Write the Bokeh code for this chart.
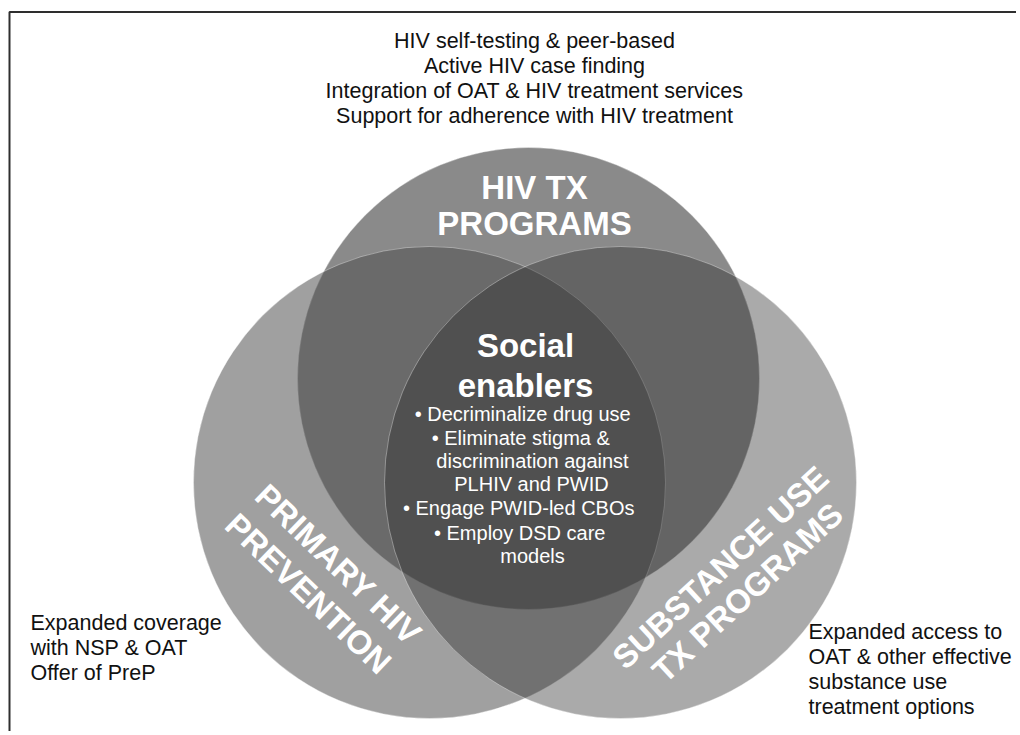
import math
from bokeh.plotting import figure
from bokeh.models import Range1d, ColumnDataSource
from bokeh.core.properties import value
from bokeh.embed import file_html
from bokeh.resources import INLINE

# ---------------- data (texts of the diagram) ----------------
set_names = ["HIV TX PROGRAMS", "PRIMARY HIV PREVENTION", "SUBSTANCE USE TX PROGRAMS"]
set_label_lines = [["HIV TX", "PROGRAMS"], ["PRIMARY HIV", "PREVENTION"], ["SUBSTANCE USE", "TX PROGRAMS"]]
hiv_tx_services = ["HIV self-testing & peer-based", "Active HIV case finding",
                   "Integration of OAT & HIV treatment services",
                   "Support for adherence with HIV treatment"]
prevention_services = ["Expanded coverage", "with NSP & OAT", "Offer of PreP"]
substance_services = ["Expanded access to", "OAT & other effective",
                      "substance use", "treatment options"]
center_title = ["Social", "enablers"]
center_items = ["\u2022  Decriminalize drug use", "\u2022  Eliminate stigma &",
                "discrimination against", "PLHIV and PWID",
                "\u2022  Engage PWID-led CBOs", "\u2022  Employ DSD care", "models"]

# ---------------- layout (picture pixel coordinates) ----------------
W, H = 1016, 731
circle_x = [528, 429, 620]
circle_y = [378, 482, 482]
circle_r = [231, 236, 236]
circle_fill = ["#3c3c3c", "#4f4f4f", "#2b2b2b"]
circle_alpha = [0.60, 0.54, 0.40]

label_x = [[534, 534], [338, 308], [720, 747]]
label_y = [[187, 223], [564, 593], [567, 592]]
label_angle = [0, -43.8, 42.8]

top_x, top_y0, top_dy = 534, 40, 25
left_x, left_y0, left_dy = 30, 622, 25
right_x, right_y0, right_dy = 808, 631, 25.3
title_x, title_y = [525, 525], [345, 385]
item_x = [525, 523, 532, 531, 521, 522, 532]
item_y = [413, 437, 460, 483, 507, 532, 555]

FONT = value("Liberation Sans")

p = figure(width=W, height=H, x_range=Range1d(0, W), y_range=Range1d(H, 0),
           output_backend="svg", toolbar_location=None, min_border=0,
           x_axis_type=None, y_axis_type=None)
p.grid.visible = False
p.outline_line_color = None
p.background_fill_color = "white"
p.border_fill_color = "white"

# frame (left and top edges of the figure box)
p.line(x=[9, 9, 1100], y=[900, 11.5, 11.5], line_color="#2e2e2e", line_width=2)

# circles
for i in range(3):
    p.circle(x=[circle_x[i]], y=[circle_y[i]], radius=circle_r[i],
             fill_color=circle_fill[i], fill_alpha=circle_alpha[i],
             line_color="white", line_alpha=0.35, line_width=1)

# set labels
for i, lines in enumerate(set_label_lines):
    src = ColumnDataSource(dict(x=label_x[i], y=label_y[i], t=lines))
    p.text(x="x", y="y", text="t", source=src, angle=label_angle[i], angle_units="deg",
           text_font=FONT, text_font_style="bold", text_font_size=value("33px"),
           text_color="white", text_align="center", text_baseline="middle")

# top services
src = ColumnDataSource(dict(x=[top_x] * len(hiv_tx_services),
                            y=[top_y0 + k * top_dy for k in range(len(hiv_tx_services))],
                            t=hiv_tx_services))
p.text(x="x", y="y", text="t", source=src, text_font=FONT, text_font_size=value("21.5px"),
       text_color="#111111", text_align="center", text_baseline="middle")

# left services
src = ColumnDataSource(dict(x=[left_x] * len(prevention_services),
                            y=[left_y0 + k * left_dy for k in range(len(prevention_services))],
                            t=prevention_services))
p.text(x="x", y="y", text="t", source=src, text_font=FONT, text_font_size=value("21.5px"),
       text_color="#111111", text_align="left", text_baseline="middle")

# right services
src = ColumnDataSource(dict(x=[right_x] * len(substance_services),
                            y=[right_y0 + k * right_dy for k in range(len(substance_services))],
                            t=substance_services))
p.text(x="x", y="y", text="t", source=src, text_font=FONT, text_font_size=value("21.5px"),
       text_color="#111111", text_align="left", text_baseline="middle")

# center
src = ColumnDataSource(dict(x=title_x, y=title_y, t=center_title))
p.text(x="x", y="y", text="t", source=src, text_font=FONT, text_font_style="bold",
       text_font_size=value("33px"), text_color="white", text_align="center",
       text_baseline="middle")
src = ColumnDataSource(dict(x=item_x, y=item_y, t=center_items))
p.text(x="x", y="y", text="t", source=src, text_font=FONT, text_font_size=value("20px"),
       text_color="white", text_align="center", text_baseline="middle")

open("out.html", "w").write(file_html(p, INLINE))
